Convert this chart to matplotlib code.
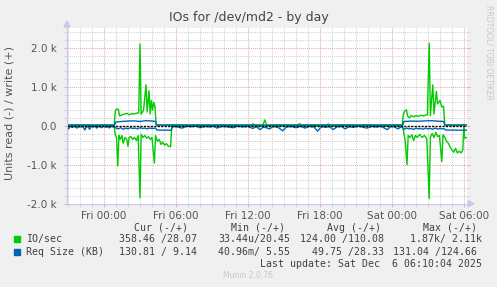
import matplotlib
matplotlib.use("Agg")
import matplotlib.pyplot as plt
from matplotlib.patches import Rectangle
from matplotlib.ticker import FixedLocator, MultipleLocator

# time in hours relative to Fri 00:00
t_start, t_end = -3.08, 30.25

io_write_t = [-3.08, -2.0, -1.0, 0.0, 0.85,
              0.95, 1.05, 1.2, 1.3, 1.5, 1.7, 1.9, 2.1, 2.3, 2.5, 2.7, 2.9, 3.0, 3.1,
              3.3, 3.5, 3.6, 3.75, 3.85, 3.95, 4.05, 4.15, 4.25, 4.35,
              5.0, 6.0, 7.0, 8.0, 9.0, 10.0, 11.0, 12.2, 12.45, 12.6, 13.25, 13.4, 13.55,
              14.5, 15.5, 16.15, 16.3, 16.45, 17.5, 18.55, 18.7, 18.85, 20.0, 21.0,
              22.0, 23.0, 24.0, 24.85,
              24.95, 25.05, 25.2, 25.3, 25.45, 25.6, 25.8, 26.0, 26.2, 26.4, 26.6, 26.8,
              26.95, 27.1, 27.2, 27.4, 27.5, 27.7, 27.8, 28.0, 28.15, 28.3, 28.4,
              29.0, 29.5, 30.0, 30.25]
io_write_v = [20, 25, 20, 25, 20,
              380, 430, 420, 250, 280, 300, 320, 280, 310, 300, 320, 330, 2100, 300,
              400, 1050, 350, 900, 300, 650, 400, 600, 500, 20,
              20, 25, 20, 25, 20, 25, 20, 20, 45, 20, 20, 150, 20,
              25, 20, 20, 55, 20, 25, 20, 45, 20, 25, 20,
              25, 20, 25, 20,
              300, 370, 410, 250, 200, 260, 230, 260, 240, 270, 250, 270,
              280, 2120, 260, 1050, 300, 880, 560, 650, 480, 500, 20,
              25, 20, 25, 20]

io_read_t = [-3.08, -1.0, 0.85,
             0.95, 1.05, 1.15, 1.25, 1.35, 1.5, 1.6, 1.75, 1.9, 2.0, 2.1, 2.25, 2.4,
             2.55, 2.7, 2.85, 3.0, 3.1, 3.25, 3.4, 3.55, 3.7, 3.85, 4.0, 4.2, 4.3,
             4.45, 4.6, 4.75, 4.9, 5.05, 5.2, 5.35, 5.55, 5.65,
             10.0, 16.0, 22.0, 24.85,
             24.95, 25.1, 25.25, 25.35, 25.5, 25.65, 25.8, 25.95, 26.1, 26.3, 26.5,
             26.7, 26.9, 27.1, 27.2, 27.35, 27.5, 27.65, 27.8, 27.95, 28.15, 28.25,
             28.4, 28.55, 28.7, 28.85, 29.0, 29.15, 29.3, 29.45, 29.6, 29.75, 29.9,
             29.98, 30.05, 30.25]
io_read_v = [-5, -5, -10,
             -250, -300, -1030, -250, -350, -250, -450, -300, -350, -530, -300, -280, -350,
             -300, -380, -250, -1850, -220, -300, -250, -320, -280, -350, -300, -960, -250,
             -400, -350, -480, -420, -500, -460, -520, -540, -10,
             -5, -5, -5, -10,
             -120, -380, -1000, -250, -300, -230, -380, -250, -300, -220, -300,
             -250, -330, -1870, -290, -200, -300, -170, -280, -250, -920, -230,
             -300, -400, -450, -550, -620, -680, -580, -700, -650, -700, -620,
             -50, -320, -300]

size_write_t = [-3.08, 0.85, 0.95, 1.0, 1.5, 2.0, 2.5, 3.0, 3.5, 4.0, 4.3, 4.4,
                24.9, 24.97, 25.1, 25.6, 26.2, 26.8, 27.3, 27.9, 28.3, 28.4, 30.25]
size_write_v = [15, 15, 60, 100, 110, 120, 125, 110, 130, 120, 110, 15,
                15, 105, 110, 120, 115, 125, 130, 115, 110, 15, 15]

size_read_t = [-3.08, -2.95, -2.8, -2.6, -2.4, -2.25, -2.1, -1.9, -1.75, -1.6, -1.45,
               -1.3, -1.2, -1.05, -0.9, -0.7, -0.6, -0.45, -0.3, -0.2, -0.05, 0.15,
               0.3, 0.45, 0.6, 0.75, 0.85,
               1.0, 1.2, 1.4, 1.6, 1.8, 2.0, 2.2, 2.4, 2.6, 2.8, 3.0, 3.2, 3.4, 3.6,
               3.8, 4.0, 4.3, 4.4, 5.6,
               5.7, 6.1, 6.5, 6.9, 7.3, 7.7, 8.0, 8.4, 8.8, 9.2, 9.4, 9.8, 10.2, 10.75,
               11.1, 11.6, 12.0, 12.4, 12.7, 13.0, 13.3, 13.8, 14.1, 14.5, 14.9, 15.2,
               15.6, 16.0, 16.4, 16.75, 17.1, 17.5, 17.8, 18.1, 18.5, 18.8, 19.1, 19.4,
               19.8, 20.1, 20.4, 20.8, 21.2, 21.5, 21.9, 22.3, 22.7, 23.1, 23.6, 23.9,
               24.2, 24.5, 24.8,
               24.95, 25.05, 25.2, 25.4, 25.6, 25.8, 26.0, 26.2, 26.4, 26.6, 26.8, 27.0,
               27.2, 27.4, 27.6, 27.8, 28.0, 28.2, 28.35, 28.45, 30.25]
size_read_v = [-30, -80, -20, -40, -15, -60, -20, -35, -10, -110, -20,
               -40, -90, -15, -30, -20, -60, -15, -30, -50, -10, -40,
               -20, -55, -15, -30, -20,
               -60, -80, -50, -90, -60, -80, -50, -70, -60, -80, -50, -70, -60, -80,
               -60, -70, -60, -110, -115,
               -20, -30, -60, -15, -25, -10, -50, -20, -30, -15, -60, -20, -25, -50,
               -15, -30, -20, -70, -20, -100, -30, -80, -20, -40, -130, -30,
               -20, -50, -15, -60, -20, -30, -140, -25, -40, -20, -100, -30,
               -20, -80, -25, -40, -15, -30, -60, -20, -35, -15, -100, -20,
               -30, -80, -20,
               -70, -90, -60, -80, -70, -95, -60, -80, -70, -90, -60, -80,
               -70, -90, -60, -85, -70, -80, -75, -110, -115]

y_ticks = [-2000, -1000, 0, 1000, 2000]
y_tick_labels = ["-2.0 k", "-1.0 k", "0.0", "1.0 k", "2.0 k"]
x_ticks = [0, 6, 12, 18, 24, 30]
x_tick_labels = ["Fri 00:00", "Fri 06:00", "Fri 12:00", "Fri 18:00", "Sat 00:00", "Sat 06:00"]

legend_names = ["IO/sec", "Req Size (KB)"]
legend_colors = ["#00cc00", "#0066b3"]

W, H = 497, 287
BG = "#f0f0f0"
fig = plt.figure(figsize=(W / 100, H / 100), dpi=100, facecolor=BG)
ax = fig.add_axes([67 / W, 1 - 203.7 / H, 400 / W, 175.4 / H])
ax.set_facecolor("white")

ax.set_xlim(t_start, t_end)
ax.set_ylim(-2000, 2500)

ax.xaxis.set_major_locator(FixedLocator(x_ticks))
ax.xaxis.set_minor_locator(MultipleLocator(1))
ax.yaxis.set_major_locator(FixedLocator(y_ticks))
ax.yaxis.set_minor_locator(MultipleLocator(200))
ax.set_xticklabels(x_tick_labels)
ax.set_yticklabels(y_tick_labels)

dots = (0, (1, 1))
ax.grid(which="minor", color="#d2d2d2", linestyle=dots, linewidth=0.75)
ax.grid(which="major", color="#e8a8a8", linestyle=dots, linewidth=0.75)
ax.set_axisbelow(True)

ax.tick_params(which="both", direction="out", colors="#d8b0b0", labelcolor="#555555",
               labelsize=7.5, left=True, right=True, bottom=True)
ax.tick_params(which="major", length=2.5, width=0.7, pad=3)
ax.tick_params(which="minor", length=2, width=0.6, colors="#d0d0d0")
ax.tick_params(axis="y", which="major", pad=5)

for side in ["top", "right"]:
    ax.spines[side].set_visible(False)
for side in ["left", "bottom"]:
    ax.spines[side].set_color("#c8c8f0")
    ax.spines[side].set_linewidth(0.8)

ax.plot(io_read_t, io_read_v, color=legend_colors[0], lw=1.0)
ax.plot(io_write_t, io_write_v, color=legend_colors[0], lw=1.0)
ax.plot(size_read_t, size_read_v, color=legend_colors[1], lw=1.0)
ax.plot(size_write_t, size_write_v, color=legend_colors[1], lw=1.0)
ax.axhline(0, color="black", lw=1.0, linestyle=(0, (1.5, 1)))

# axis arrows
fig.patches.append(plt.Polygon([[64 / W, 1 - 27 / H], [70 / W, 1 - 27 / H], [67 / W, 1 - 21 / H]],
                               closed=True, color="#c8c8f0", transform=fig.transFigure))
fig.patches.append(plt.Polygon([[468 / W, 1 - 200.7 / H], [468 / W, 1 - 206.7 / H], [474 / W, 1 - 203.7 / H]],
                               closed=True, color="#c8c8f0", transform=fig.transFigure))


def px(x, y):
    return x / W, 1 - y / H


fig.text(*px(248.5, 18), "IOs for /dev/md2 - by day", ha="center", va="center",
         fontsize=9, color="#444444")
fig.text(*px(10, 113), "Units read (-) / write (+)", ha="center", va="center",
         rotation=90, fontsize=8, color="#555555")
fig.text(*px(489, 53), "RRDTOOL/ TOBI OETIKER", ha="center", va="center",
         rotation=270, fontsize=5.5, color="#c8c8c8")

mono = dict(family="DejaVu Sans Mono", fontsize=7.1, color="#404040", va="center", ha="left")
for x, s in [(134.3, "Cur (-/+)"), (230.7, "Min (-/+)"), (326.7, "Avg (-/+)"), (422.7, "Max (-/+)")]:
    fig.text(*px(x, 227.7), s, **mono)

# value columns, right edges in pixels
rows = [
    (239.3, [(196.7, "358.46 /28.07"), (290, "33.44u/20.45"), (383.5, "124.00 /110.08"),
             (482, "1.87k/ 2.11k")]),
    (251.7, [(196.7, "130.81 / 9.14"), (290, "40.96m/ 5.55"), (383.5, "49.75 /28.33"),
             (477, "131.04 /124.66")]),
]
for (y, items), name, col in zip(rows, legend_names, legend_colors):
    fig.patches.append(Rectangle(px(14, y + 3), 6 / W, 6 / H, color=col,
                                 transform=fig.transFigure))
    fig.text(*px(26, y), name, **mono)
    for x, s in items:
        fig.text(*px(x, y), s, **{**mono, "ha": "right"})

fig.text(*px(482, 263.7), "Last update: Sat Dec  6 06:10:04 2025",
         **{**mono, "ha": "right"})
fig.text(*px(248, 276), "Munin 2.0.76", ha="center", va="center", fontsize=5.5,
         color="#c8c8c8")

fig.savefig("out.png", dpi=100, facecolor=BG)
